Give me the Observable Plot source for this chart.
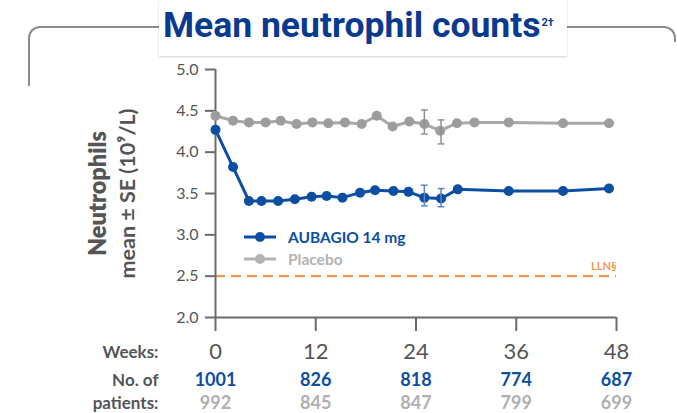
<!DOCTYPE html>
<html>
<head>
<meta charset="utf-8">
<script src="https://cdn.jsdelivr.net/npm/d3@7"></script>
<script src="https://cdn.jsdelivr.net/npm/@observablehq/plot@0.6"></script>
<style>
  html, body { margin: 0; padding: 0; background: #fff; }
  #wrap { position: relative; width: 677px; height: 413px; overflow: hidden; font-family: Lato, "Open Sans", sans-serif; }
  .frameL { position: absolute; left: 28px; top: 26px; width: 200px; height: 58px; border-top: 2px solid #8c8c8c; border-left: 2px solid #8c8c8c; border-top-left-radius: 12px; }
  .frameR { position: absolute; left: 500px; top: 26px; width: 174px; height: 14px; border-top: 2px solid #8c8c8c; border-right: 2px solid #8c8c8c; border-top-right-radius: 12px; }
  #title { position: absolute; left: 159px; top: 0; width: 408px; height: 56px; background: #fff; box-shadow: 0 1px 2px rgba(0,0,0,0.18); box-sizing: border-box; padding-left: 4px; padding-top: 6px;
    font-family: "Liberation Sans Narrow", "Arial Narrow", "Roboto", sans-serif; font-weight: 700; font-size: 35.5px; color: #0a3a8f; white-space: nowrap; line-height: 38px; }
  #title sup { font-size: 11px; vertical-align: top; position: relative; top: -2px; margin-left: 1px; }
  #chart { position: absolute; left: 0; top: 55px; }
  .leg { position: absolute; left: 243px; font-weight: 700; font-size: 15.5px; line-height: 18px; display: flex; align-items: center; white-space: nowrap; }
  .leg svg { margin-right: 11px; }
</style>
</head>
<body>
<div id="wrap">
  <div class="frameL"></div>
  <div class="frameR"></div>
  <div id="title">Mean neutrophil counts<sup>2†</sup></div>
  <div id="chart"></div>
  <div class="leg" style="top:228px;color:#0b4ea2;">
    <svg width="34" height="12"><line x1="1" y1="6" x2="33" y2="6" stroke="#0b4ea2" stroke-width="3"/><circle cx="17" cy="6" r="5" fill="#0b4ea2"/></svg>AUBAGIO 14 mg</div>
  <div class="leg" style="top:250px;color:#b3b3b3;">
    <svg width="34" height="12"><line x1="1" y1="6" x2="33" y2="6" stroke="#b3b3b3" stroke-width="3"/><circle cx="17" cy="6" r="5" fill="#b3b3b3"/></svg>Placebo</div>
</div>
<script>
// ---- data ----
const aubagioWeeks = [0, 2.1, 4, 5.5, 7.5, 9.5, 11.5, 13.3, 15.2, 17.3, 19.1, 21.3, 23.1, 25, 27, 29, 35.1, 41.6, 47.1];
const aubagioMean  = [4.27, 3.82, 3.41, 3.41, 3.41, 3.43, 3.46, 3.47, 3.45, 3.51, 3.54, 3.53, 3.52, 3.45, 3.44, 3.55, 3.53, 3.53, 3.56];
const placeboWeeks = [0, 2.1, 4, 6, 7.8, 9.7, 11.6, 13.5, 15.5, 17.5, 19.3, 21.2, 23.2, 25, 26.9, 28.9, 31, 35.1, 41.6, 47.1];
const placeboMean  = [4.44, 4.38, 4.36, 4.36, 4.38, 4.34, 4.36, 4.35, 4.36, 4.34, 4.44, 4.31, 4.37, 4.34, 4.26, 4.35, 4.36, 4.36, 4.35, 4.35];
const errWeeks     = [25, 27];
const aubagioLow   = [3.35, 3.34];
const aubagioHigh  = [3.60, 3.56];
const placeboLow   = [4.22, 4.10];
const placeboHigh  = [4.51, 4.39];
const lln = 2.5;
const weekTicks = [0, 12, 24, 36, 48];
const yTicks = [2.0, 2.5, 3.0, 3.5, 4.0, 4.5, 5.0];
const aubagioN = [1001, 826, 818, 774, 687];
const placeboN = [992, 845, 847, 799, 699];

const blue = "#0b4ea2", grayLine = "#a8a8a8", grayDot = "#9d9d9d", orange = "#ee9a4d", axisGray = "#6a6a6a", textGray = "#555555";

const aubagio = aubagioWeeks.map((w, i) => ({week: w, mean: aubagioMean[i]}));
const placebo = placeboWeeks.map((w, i) => ({week: w, mean: placeboMean[i]}));
const aubErr = errWeeks.map((w, i) => ({week: w, low: aubagioLow[i], high: aubagioHigh[i]}));
const plaErr = errWeeks.map((w, i) => ({week: w, low: placeboLow[i], high: placeboHigh[i]}));
const counts = weekTicks.map((w, i) => ({week: w, a: String(aubagioN[i]), p: String(placeboN[i])}));
const cap = 0.4;

const errMarks = (data, color) => [
  Plot.ruleX(data, {x: "week", y1: "low", y2: "high", stroke: color, strokeWidth: 1.5}),
  Plot.link(data, {x1: d => d.week - cap, x2: d => d.week + cap, y1: "low", y2: "low", stroke: color, strokeWidth: 1.5}),
  Plot.link(data, {x1: d => d.week - cap, x2: d => d.week + cap, y1: "high", y2: "high", stroke: color, strokeWidth: 1.5})
];

const chart = Plot.plot({
  width: 677, height: 358,
  marginLeft: 215, marginRight: 61, marginTop: 14, marginBottom: 96,
  x: {domain: [0, 48]},
  y: {domain: [2, 5]},
  style: {fontFamily: "Lato, 'Open Sans', sans-serif", background: "transparent", overflow: "visible"},
  marks: [
    Plot.ruleY([lln], {stroke: orange, strokeWidth: 2.2, strokeDasharray: "10,6"}),
    Plot.text([lln], {y: d => d, frameAnchor: "right", textAnchor: "end", dy: -10, text: () => "LLN§", fill: orange, fontSize: 11, fontWeight: 700}),
    Plot.axisY({ticks: yTicks, tickFormat: d3.format(".1f"), tickSize: 10, tickPadding: 7, fontSize: 16, label: null, stroke: axisGray, strokeWidth: 2, fill: textGray}),
    Plot.axisX({ticks: weekTicks, tickFormat: d => String(d), tickSize: 14, tickPadding: 12, fontSize: 22, label: null, stroke: axisGray, strokeWidth: 2, fill: textGray}),
    Plot.ruleX([0], {stroke: axisGray, strokeWidth: 2}),
    Plot.ruleY([2], {stroke: axisGray, strokeWidth: 2}),
    Plot.line(placebo, {x: "week", y: "mean", stroke: grayLine, strokeWidth: 3}),
    Plot.dot(placebo, {x: "week", y: "mean", r: 5, fill: grayDot}),
    ...errMarks(plaErr, "#8f8f8f"),
    Plot.line(aubagio, {x: "week", y: "mean", stroke: blue, strokeWidth: 3}),
    Plot.dot(aubagio, {x: "week", y: "mean", r: 5, fill: blue}),
    ...errMarks(aubErr, "#5b86c6"),
    // y axis title
    Plot.text(["Neutrophils"], {frameAnchor: "left", textAnchor: "middle", lineAnchor: "middle", rotate: -90, dx: -117, fontSize: 23.5, fontWeight: 800, fill: textGray}),
    Plot.text(["mean ± SE (10⁹/L)"], {frameAnchor: "left", textAnchor: "middle", lineAnchor: "middle", rotate: -90, dx: -87, fontSize: 21.5, fontWeight: 700, fill: textGray}),
    // table rows
    Plot.text(["Weeks:"], {frameAnchor: "bottom-left", textAnchor: "end", lineAnchor: "middle", dx: -57, dy: 35, fontSize: 17, fontWeight: 700, fill: textGray}),
    Plot.text(["No. of"], {frameAnchor: "bottom-left", textAnchor: "end", lineAnchor: "middle", dx: -57, dy: 63, fontSize: 17, fontWeight: 700, fill: textGray}),
    Plot.text(["patients:"], {frameAnchor: "bottom-left", textAnchor: "end", lineAnchor: "middle", dx: -57, dy: 86, fontSize: 17, fontWeight: 700, fill: textGray}),
    Plot.text(counts, {x: "week", frameAnchor: "bottom", text: "a", lineAnchor: "middle", dy: 63, fontSize: 18, fontWeight: 700, fill: blue}),
    Plot.text(counts, {x: "week", frameAnchor: "bottom", text: "p", lineAnchor: "middle", dy: 86, fontSize: 18, fontWeight: 700, fill: "#b0b0b0"})
  ]
});
document.getElementById("chart").appendChild(chart);
</script>
</body>
</html>
